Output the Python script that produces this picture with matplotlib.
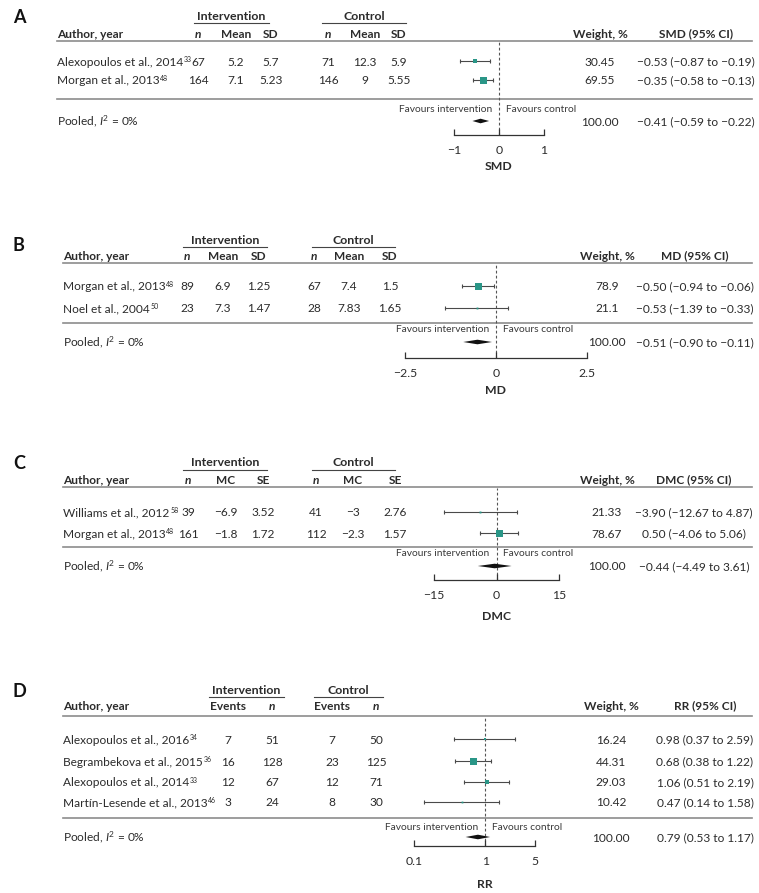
import matplotlib
matplotlib.use("Agg")
import matplotlib.pyplot as plt
from matplotlib.ticker import NullLocator

W, H = 759, 893

plt.rcParams["font.family"] = ["Lato", "DejaVu Sans"]
plt.rcParams["mathtext.fontset"] = "custom"
plt.rcParams["mathtext.rm"] = "Lato"
plt.rcParams["mathtext.it"] = "Lato:italic"
plt.rcParams["mathtext.bf"] = "Lato:bold"

TEXT = "#2b2b2b"
TEAL = "#2a9687"
RULE = "#8c8c8c"
FS = 8.6

# ---------------- panel A: standardised mean difference
a_authors = ["Alexopoulos et al., 2014", "Morgan et al., 2013"]
a_refs = ["33", "48"]
a_cols = ["n", "Mean", "SD"]
a_int = [[67, 164], [5.2, 7.1], [5.7, 5.23]]
a_ctl = [[71, 146], [12.3, 9], [5.9, 5.55]]
a_weight = [30.45, 69.55]
a_est = [-0.53, -0.35]
a_lo = [-0.87, -0.58]
a_hi = [-0.19, -0.13]
a_ci_text = ["−0.53 (−0.87 to −0.19)", "−0.35 (−0.58 to −0.13)"]
a_pooled = [-0.41, -0.59, -0.22]
a_pooled_text = "−0.41 (−0.59 to −0.22)"
a_ticks = [-1, 0, 1]
a_ticklabels = ["−1", "0", "1"]

# ---------------- panel B: mean difference
b_authors = ["Morgan et al., 2013", "Noel et al., 2004"]
b_refs = ["48", "50"]
b_cols = ["n", "Mean", "SD"]
b_int = [[89, 23], [6.9, 7.3], [1.25, 1.47]]
b_ctl = [[67, 28], [7.4, 7.83], [1.5, 1.65]]
b_weight = [78.9, 21.1]
b_est = [-0.50, -0.53]
b_lo = [-0.94, -1.39]
b_hi = [-0.06, 0.33]
b_ci_text = ["−0.50 (−0.94 to −0.06)", "−0.53 (−1.39 to −0.33)"]
b_pooled = [-0.51, -0.90, -0.11]
b_pooled_text = "−0.51 (−0.90 to −0.11)"
b_ticks = [-2.5, 0, 2.5]
b_ticklabels = ["−2.5", "0", "2.5"]

# ---------------- panel C: difference in mean change
c_authors = ["Williams et al., 2012", "Morgan et al., 2013"]
c_refs = ["58", "48"]
c_cols = ["n", "MC", "SE"]
c_int = [[39, 161], [-6.9, -1.8], [3.52, 1.72]]
c_ctl = [[41, 112], [-3, -2.3], [2.76, 1.57]]
c_weight = [21.33, 78.67]
c_est = [-3.90, 0.50]
c_lo = [-12.67, -4.06]
c_hi = [4.87, 5.06]
c_ci_text = ["−3.90 (−12.67 to 4.87)", "0.50 (−4.06 to 5.06)"]
c_pooled = [-0.44, -4.49, 3.61]
c_pooled_text = "−0.44 (−4.49 to 3.61)"
c_ticks = [-15, 0, 15]
c_ticklabels = ["−15", "0", "15"]

# ---------------- panel D: risk ratio
d_authors = ["Alexopoulos et al., 2016", "Begrambekova et al., 2015",
             "Alexopoulos et al., 2014", "Martín-Lesende et al., 2013"]
d_refs = ["34", "36", "33", "46"]
d_cols = ["Events", "n"]
d_int = [[7, 16, 12, 3], [51, 128, 67, 24]]
d_ctl = [[7, 23, 12, 8], [50, 125, 71, 30]]
d_weight = [16.24, 44.31, 29.03, 10.42]
d_est = [0.98, 0.68, 1.06, 0.47]
d_lo = [0.37, 0.38, 0.51, 0.14]
d_hi = [2.59, 1.22, 2.19, 1.58]
d_ci_text = ["0.98 (0.37 to 2.59)", "0.68 (0.38 to 1.22)",
             "1.06 (0.51 to 2.19)", "0.47 (0.14 to 1.58)"]
d_pooled = [0.79, 0.53, 1.17]
d_pooled_text = "0.79 (0.53 to 1.17)"
d_ticks = [0.1, 1, 5]
d_ticklabels = ["0.1", "1", "5"]


def val_str(v):
    return str(v).replace("-", "\u2212")


def frac(x0, y0, x1, y1):
    # pixel box (top-left origin) -> figure fraction
    return [x0 / W, 1 - y1 / H, (x1 - x0) / W, (y1 - y0) / H]


def cell(bg, x, y, s, **kw):
    opts = dict(fontsize=FS, color=TEXT, ha="center", va="center_baseline")
    opts.update(kw)
    return bg.text(x, y, s, **opts)


def draw_table(bg, lay, letter, cols, int_vals, ctl_vals, authors, refs, weights,
               ci_text, pooled_text, measure):
    bg.text(13, lay["letter_y"], letter, fontsize=13, fontweight="bold",
            color="#111111", va="center_baseline")
    ix, cx = lay["int_x"], lay["ctl_x"]
    # group titles with underline
    for title, (l0, l1) in [("Intervention", lay["int_line"]), ("Control", lay["ctl_line"])]:
        cell(bg, (l0 + l1) / 2, lay["group_y"], title, fontweight="bold", fontsize=FS + 0.3)
        bg.plot([l0, l1], [lay["group_y"] + 8, lay["group_y"] + 8], color="#444444", lw=0.8)
    # column headers
    hy = lay["header_y"]
    cell(bg, lay["author_x"], hy, "Author, year", fontweight="bold", ha="left")
    for xs in (ix, cx):
        for x, name in zip(xs, cols):
            cell(bg, x, hy, name, fontweight="bold",
                 fontstyle="italic" if name == "n" else "normal")
    cell(bg, lay["weight_x"], hy, "Weight, %", fontweight="bold")
    cell(bg, lay["ci_x"], hy, measure + " (95% CI)", fontweight="bold")
    bg.plot([lay["author_x"], 752], [lay["hline_y"]] * 2, color=RULE, lw=1.2)
    bg.plot([lay["author_x"], 752], [lay["sep_y"]] * 2, color=RULE, lw=1.2)
    # study rows
    for i, y in enumerate(lay["rows_y"]):
        t = cell(bg, lay["author_x"], y, authors[i], ha="left")
        bg.annotate(refs[i], xy=(1, 1), xycoords=t, xytext=(0.6, 0.5),
                    textcoords="offset points", fontsize=5.0, color=TEXT,
                    ha="left", va="top")
        for x, col in zip(ix, int_vals):
            cell(bg, x, y, val_str(col[i]))
        for x, col in zip(cx, ctl_vals):
            cell(bg, x, y, val_str(col[i]))
        cell(bg, lay["weight_x"], y, val_str(weights[i]))
        cell(bg, lay["ci_x"], y, ci_text[i])
    # pooled row
    py = lay["pooled_y"]
    cell(bg, lay["author_x"], py - 2, r"Pooled, $I^{2}$ = 0%", ha="left")
    cell(bg, lay["weight_x"], py, "100.00")
    cell(bg, lay["ci_x"], py, pooled_text)


def draw_forest(fig, lay, est, lo, hi, weights, pooled, ticks, ticklabels,
                ref, xlabel, log=False):
    x0, x1 = lay["axis_px"]
    top = lay["hline_y"] + 1
    bottom = lay["axis_y"]
    ax = fig.add_axes(frac(x0, top, x1, bottom))
    ax.set_facecolor("none")
    if log:
        ax.set_xscale("log")
    ax.set_xlim(ticks[0], ticks[-1])
    ax.set_ylim(bottom, top)

    wmax = max(weights)
    for i, y in enumerate(lay["rows_y"]):
        ax.plot([lo[i], hi[i]], [y, y], color="#4a4a4a", lw=0.8, clip_on=False)
        ax.plot([lo[i], hi[i]], [y, y], ls="none", marker="|", ms=3.5, mew=0.8,
                color="#4a4a4a", clip_on=False)
        side = max(7.0 * weights[i] / wmax, 1.8) * 0.72
        ax.plot(est[i], y, marker="s", ms=side, color=TEAL, mew=0, clip_on=False, zorder=3)

    # pooled diamond
    py = lay["pooled_y"]
    ax.fill([pooled[1], pooled[0], pooled[2], pooled[0]], [py, py - 2.3, py, py + 2.3],
            color="#111111", lw=0, clip_on=False, zorder=3)

    ax.axvline(ref, color="#555555", lw=0.8, ls=(0, (2.5, 2)), zorder=1)

    fy = lay["fav_y"]
    ax.annotate("Favours intervention", (ref, fy), xytext=(-5, 0), textcoords="offset points",
                ha="right", va="center_baseline", fontsize=7.4, color="#3a3a3a")
    ax.annotate("Favours control", (ref, fy), xytext=(5, 0), textcoords="offset points",
                ha="left", va="center_baseline", fontsize=7.4, color="#3a3a3a")

    for s in ["left", "right", "top"]:
        ax.spines[s].set_visible(False)
    ax.spines["bottom"].set_color("#333333")
    ax.spines["bottom"].set_linewidth(0.9)
    ax.set_yticks([])
    ax.set_xticks(ticks)
    ax.set_xticklabels(ticklabels)
    ax.xaxis.set_minor_locator(NullLocator())
    ax.tick_params(axis="x", direction="in", length=4, width=0.9, pad=7.5,
                   labelsize=FS + 0.2, colors="#333333", labelcolor=TEXT)
    ax.text(ref, lay["xlabel_y"], xlabel, fontsize=FS + 0.2, fontweight="bold", color=TEXT,
            ha="center", va="center_baseline")
    return ax


lay_a = dict(letter_y=16, group_y=15, header_y=33, hline_y=41, rows_y=[61, 80],
             sep_y=99, fav_y=109, pooled_y=121, axis_y=135, xlabel_y=166,
             author_x=57, int_x=[198, 236, 271], ctl_x=[328, 365, 399],
             int_line=(194, 269), ctl_line=(322, 406), weight_x=600, ci_x=696,
             axis_px=(454, 544))
lay_b = dict(letter_y=244, group_y=239, header_y=255, hline_y=263, rows_y=[286, 308],
             sep_y=323, fav_y=328, pooled_y=342, axis_y=358, xlabel_y=389,
             author_x=63, int_x=[187, 223, 259], ctl_x=[314, 349, 390],
             int_line=(183, 267), ctl_line=(312, 395), weight_x=607, ci_x=695,
             axis_px=(405, 587))
lay_c = dict(letter_y=462, group_y=462, header_y=479, hline_y=487, rows_y=[512, 533],
             sep_y=547, fav_y=553, pooled_y=566, axis_y=580, xlabel_y=615,
             author_x=63, int_x=[188, 226, 263], ctl_x=[316, 353, 395],
             int_line=(183, 267), ctl_line=(312, 395), weight_x=607, ci_x=694,
             axis_px=(434, 559))
lay_d = dict(letter_y=690, group_y=689, header_y=705, hline_y=716,
             rows_y=[739, 761, 782, 802], sep_y=818, fav_y=827, pooled_y=837,
             axis_y=846, xlabel_y=883,
             author_x=63, int_x=[228, 272], ctl_x=[332, 376],
             int_line=(209, 284), ctl_line=(314, 383), weight_x=611, ci_x=705,
             axis_px=(414, 535))

fig = plt.figure(figsize=(W / 100, H / 100), dpi=100)
bg = fig.add_axes([0, 0, 1, 1])
bg.set_xlim(0, W)
bg.set_ylim(H, 0)
bg.axis("off")

draw_table(bg, lay_a, "A", a_cols, a_int, a_ctl, a_authors, a_refs, a_weight, a_ci_text,
           a_pooled_text, "SMD")
draw_forest(fig, lay_a, a_est, a_lo, a_hi, a_weight, a_pooled, a_ticks, a_ticklabels, 0, "SMD")

draw_table(bg, lay_b, "B", b_cols, b_int, b_ctl, b_authors, b_refs, b_weight, b_ci_text,
           b_pooled_text, "MD")
draw_forest(fig, lay_b, b_est, b_lo, b_hi, b_weight, b_pooled, b_ticks, b_ticklabels, 0, "MD")

draw_table(bg, lay_c, "C", c_cols, c_int, c_ctl, c_authors, c_refs, c_weight, c_ci_text,
           c_pooled_text, "DMC")
draw_forest(fig, lay_c, c_est, c_lo, c_hi, c_weight, c_pooled, c_ticks, c_ticklabels, 0, "DMC")

draw_table(bg, lay_d, "D", d_cols, d_int, d_ctl, d_authors, d_refs, d_weight, d_ci_text,
           d_pooled_text, "RR")
draw_forest(fig, lay_d, d_est, d_lo, d_hi, d_weight, d_pooled, d_ticks, d_ticklabels, 1, "RR",
            log=True)

fig.savefig("out.png", dpi=100)
